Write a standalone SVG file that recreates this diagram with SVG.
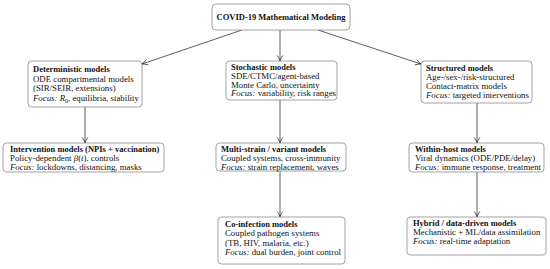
<svg xmlns="http://www.w3.org/2000/svg" width="550" height="269" viewBox="0 0 550 269">
<style>
.box{fill:#fff;stroke:#8a8a8a;stroke-width:0.8}
text{font-family:"Liberation Serif","Times New Roman",serif;font-size:8.8px;fill:#111}
.b{font-weight:bold;font-size:8.5px}
.i{font-style:italic}
.c{stroke:#333;stroke-width:0.8;fill:none}
</style>
<defs>
<marker id="ah" viewBox="0 0 8 8" refX="7" refY="4" markerWidth="8" markerHeight="8" markerUnits="userSpaceOnUse" orient="auto">
<path d="M1.5,1.2 Q4.5,3.4 7,4 Q4.5,4.6 1.5,6.8" fill="none" stroke="#333" stroke-width="0.8"/>
</marker>
</defs>
<rect width="550" height="269" fill="#fff"/>
<g id="connectors">
<line class="c" x1="242" y1="30" x2="142" y2="64" marker-end="url(#ah)"/>
<line class="c" x1="280" y1="30" x2="280" y2="61" marker-end="url(#ah)"/>
<line class="c" x1="318" y1="30" x2="421" y2="64" marker-end="url(#ah)"/>
<line class="c" x1="85" y1="107" x2="85" y2="143" marker-end="url(#ah)"/>
<line class="c" x1="280" y1="100" x2="280" y2="143" marker-end="url(#ah)"/>
<line class="c" x1="477" y1="103" x2="477" y2="143" marker-end="url(#ah)"/>
<line class="c" x1="280" y1="171" x2="280" y2="217" marker-end="url(#ah)"/>
<line class="c" x1="477" y1="172" x2="477" y2="217" marker-end="url(#ah)"/>
</g>
<g id="root">
<rect class="box" x="212" y="4" width="138" height="26" rx="4"/>
<text class="b" x="281" y="20" text-anchor="middle">COVID-19 Mathematical Modeling</text>
</g>
<g id="deterministic">
<rect class="box" x="28" y="61" width="114" height="46" rx="3.5"/>
<text x="33" y="72"><tspan class="b">Deterministic models</tspan><tspan x="33" dy="9.6">ODE compartmental models</tspan><tspan x="33" dy="9.6">(SIR/SEIR, extensions)</tspan><tspan x="33" dy="9.6"><tspan class="i">Focus:</tspan> <tspan class="i">R</tspan><tspan font-size="6" dy="1.8">0</tspan><tspan dy="-1.8">, equilibria, stability</tspan></tspan></text>
</g>
<g id="stochastic">
<rect class="box" x="226" y="61" width="111" height="39" rx="3.5"/>
<text x="231" y="70"><tspan class="b">Stochastic models</tspan><tspan x="231" dy="8.8">SDE/CTMC/agent-based</tspan><tspan x="231" dy="8.8">Monte Carlo, uncertainty</tspan><tspan x="231" dy="8.8"><tspan class="i">Focus:</tspan> variability, risk ranges</tspan></text>
</g>
<g id="structured">
<rect class="box" x="421" y="61" width="111" height="42" rx="3.5"/>
<text x="426" y="71"><tspan class="b">Structured models</tspan><tspan x="426" dy="9">Age-/sex-/risk-structured</tspan><tspan x="426" dy="9">Contact-matrix models</tspan><tspan x="426" dy="9"><tspan class="i">Focus:</tspan> targeted interventions</tspan></text>
</g>
<g id="intervention">
<rect class="box" x="3" y="143" width="161" height="29" rx="3.5"/>
<text x="10" y="152"><tspan class="b">Intervention models (NPIs + vaccination)</tspan><tspan x="10" dy="8.8">Policy-dependent <tspan class="i">β</tspan>(<tspan class="i">t</tspan>), controls</tspan><tspan x="10" dy="8.8"><tspan class="i">Focus:</tspan> lockdowns, distancing, masks</tspan></text>
</g>
<g id="multistrain">
<rect class="box" x="216" y="143" width="130" height="28" rx="3.5"/>
<text x="221" y="152"><tspan class="b">Multi-strain / variant models</tspan><tspan x="221" dy="8.8">Coupled systems, cross-immunity</tspan><tspan x="221" dy="8.8"><tspan class="i">Focus:</tspan> strain replacement, waves</tspan></text>
</g>
<g id="withinhost">
<rect class="box" x="409" y="143" width="135" height="29" rx="3.5"/>
<text x="415" y="152"><tspan class="b">Within-host models</tspan><tspan x="415" dy="8.8">Viral dynamics (ODE/PDE/delay)</tspan><tspan x="415" dy="8.8"><tspan class="i">Focus:</tspan> immune response, treatment</tspan></text>
</g>
<g id="coinfection">
<rect class="box" x="218" y="217" width="127" height="47" rx="3.5"/>
<text x="225" y="227"><tspan class="b">Co-infection models</tspan><tspan x="225" dy="9.4">Coupled pathogen systems</tspan><tspan x="225" dy="9.4">(TB, HIV, malaria, etc.)</tspan><tspan x="225" dy="9.4"><tspan class="i">Focus:</tspan> dual burden, joint control</tspan></text>
</g>
<g id="hybrid">
<rect class="box" x="407" y="217" width="139" height="38" rx="3.5"/>
<text x="413" y="226"><tspan class="b">Hybrid / data-driven models</tspan><tspan x="413" dy="9.2">Mechanistic + ML/data assimilation</tspan><tspan x="413" dy="9.2"><tspan class="i">Focus:</tspan> real-time adaptation</tspan></text>
</g>
</svg>
